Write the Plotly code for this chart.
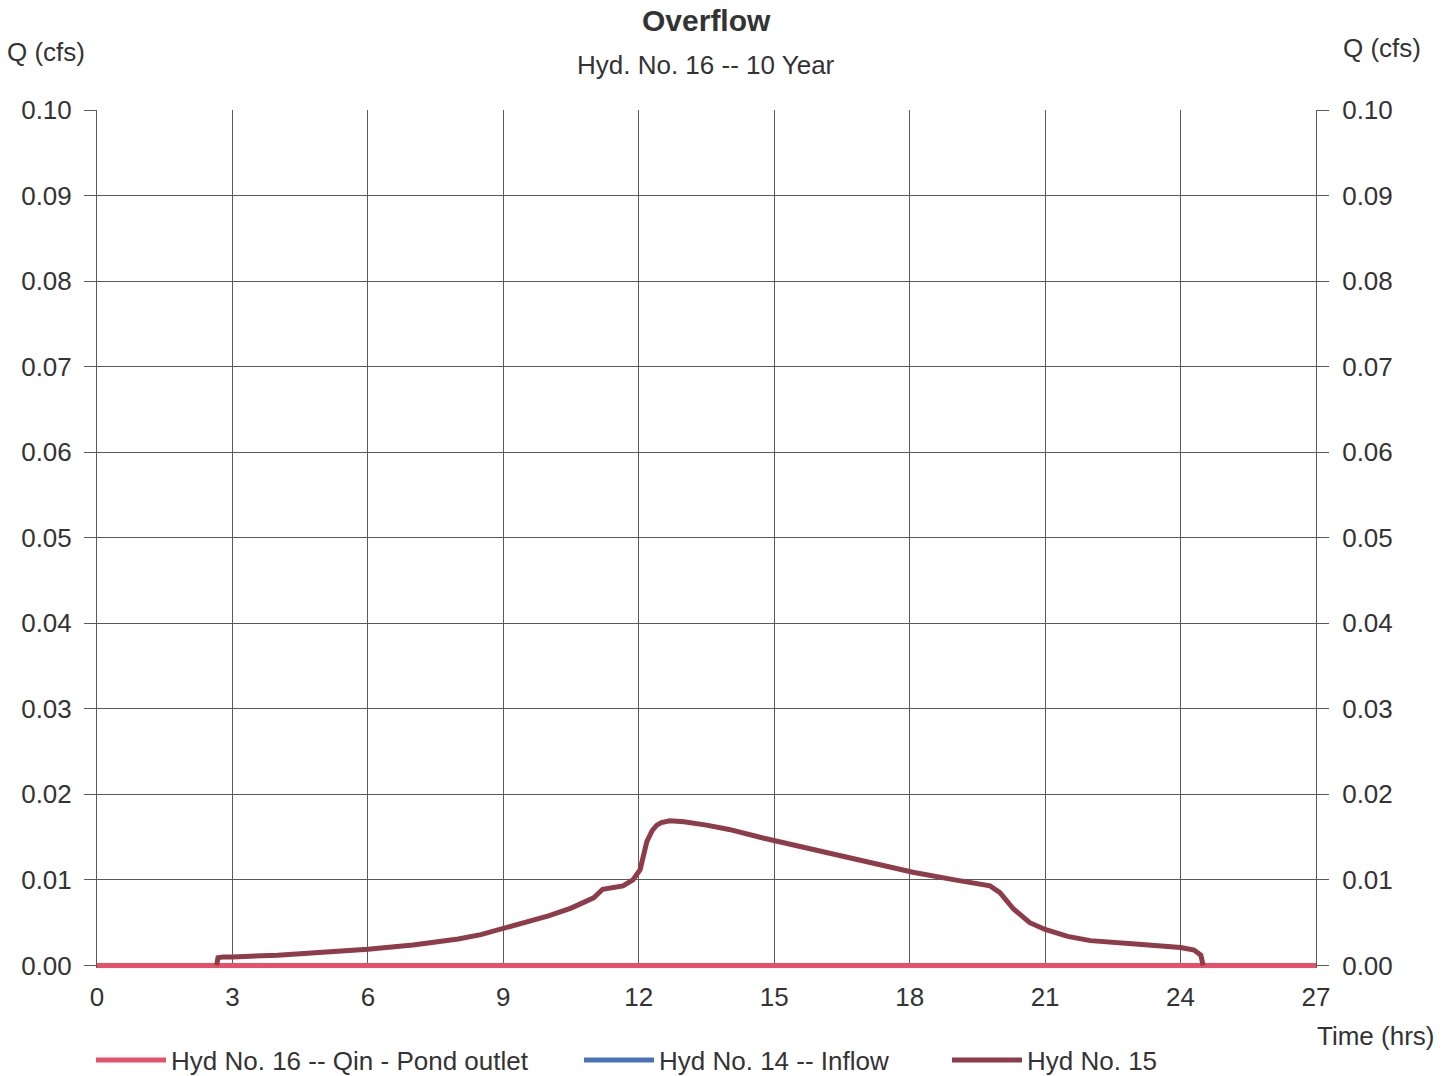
import plotly.graph_objects as go

# ---- data ----
hyd16_t = [0, 27]
hyd16_q = [0.0, 0.0]
hyd14_t = [0, 27]
hyd14_q = [0.0, 0.0]
hyd15_t = [2.65, 2.68, 2.8, 3.0, 4.0, 5.0, 6.0, 7.0, 8.0, 8.5, 9.0, 9.5, 10.0,
           10.5, 11.0, 11.2, 11.45, 11.65, 11.87, 12.03, 12.18, 12.3, 12.4, 12.5,
           12.69, 13.0, 13.5, 14.0, 14.75, 15.5, 16.5, 17.5, 18.07, 19.0, 19.5,
           19.78, 20.0, 20.3, 20.66, 21.0, 21.5, 22.0, 23.0, 24.0, 24.3, 24.45, 24.5]
hyd15_q = [0.0, 0.0009, 0.0010, 0.0010, 0.0012, 0.0015, 0.0019, 0.0024, 0.0031,
           0.0036, 0.0043, 0.0050, 0.0058, 0.0067, 0.0079, 0.0089, 0.0091, 0.0093,
           0.0100, 0.0112, 0.0145, 0.0158, 0.0164, 0.0167, 0.0169, 0.0168, 0.0164,
           0.0159, 0.0149, 0.0140, 0.0128, 0.0116, 0.0109, 0.0100, 0.0096, 0.0093,
           0.0085, 0.0066, 0.0050, 0.0042, 0.0034, 0.0029, 0.0025, 0.0021, 0.0018,
           0.0012, 0.0]
y_ticks = [0.00, 0.01, 0.02, 0.03, 0.04, 0.05, 0.06, 0.07, 0.08, 0.09, 0.10]
x_ticks = [0, 3, 6, 9, 12, 15, 18, 21, 24, 27]

FONT = "Liberation Sans, Arial, sans-serif"
TXT = "#333333"
GRID = "#5a5a5a"

L, R, T, B = 97, 1316, 110, 968
PW, PH = R - L, B - T


def px(x):
    return (x - L) / PW


def py(y):
    return (B - y) / PH


fig = go.Figure()
fig.add_trace(go.Scatter(x=hyd14_t, y=hyd14_q, mode="lines",
                         line=dict(color="#4a72b8", width=5),
                         name="Hyd No. 14 -- Inflow", legend="legend2"))
fig.add_trace(go.Scatter(x=hyd16_t, y=hyd16_q, mode="lines",
                         line=dict(color="#e8506a", width=5),
                         name="Hyd No. 16 -- Qin - Pond outlet", legend="legend"))
fig.add_trace(go.Scatter(x=hyd15_t, y=hyd15_q, mode="lines",
                         line=dict(color="#8e3c4a", width=5),
                         name="Hyd No. 15", legend="legend3"))
# invisible trace for the right axis
fig.add_trace(go.Scatter(x=[0], y=[0], yaxis="y2", mode="markers",
                         marker=dict(opacity=0), showlegend=False, hoverinfo="skip"))

axis_font = dict(family=FONT, size=26, color=TXT)
yr = [-0.0003, 0.10]
leg_font = dict(family=FONT, size=26, color=TXT)


def leg(xpix):
    return dict(orientation="h", x=px(xpix), xanchor="left", y=py(1060),
                yanchor="middle", font=leg_font, itemwidth=70,
                bgcolor="rgba(0,0,0,0)", borderwidth=0)


def note(text, xpix, ypix, size, bold=False):
    return dict(text=f"<b>{text}</b>" if bold else text, xref="paper", yref="paper",
                x=px(xpix), y=py(ypix), xanchor="center", yanchor="middle",
                showarrow=False, font=dict(family=FONT, size=size, color=TXT))


fig.update_layout(
    width=1450, height=1076,
    paper_bgcolor="white", plot_bgcolor="white",
    margin=dict(l=L, r=1450 - R, t=T, b=1076 - B, autoexpand=False),
    font=dict(family=FONT, color=TXT),
    xaxis=dict(range=[0, 27], tickvals=x_ticks, showgrid=True, gridcolor=GRID,
               gridwidth=1, showline=False, ticks="", tickfont=axis_font,
               ticklabelstandoff=11, zeroline=False),
    yaxis=dict(range=yr, tickvals=y_ticks, tickformat=".2f", showgrid=True,
               gridcolor=GRID, gridwidth=1, showline=True, linecolor=GRID,
               linewidth=1, ticks="outside", ticklen=12, tickcolor=GRID,
               tickfont=axis_font, ticklabelstandoff=7, zeroline=False),
    yaxis2=dict(range=yr, tickvals=y_ticks, tickformat=".2f", overlaying="y",
                side="right", showgrid=False, showline=True, linecolor=GRID,
                linewidth=1, ticks="outside", ticklen=12, tickcolor=GRID,
                tickfont=axis_font, ticklabelstandoff=8, zeroline=False),
    showlegend=True,
    legend=leg(91),
    legend2=leg(579),
    legend3=leg(947),
    annotations=[
        note("Overflow", 706, 20, 30, bold=True),
        note("Hyd. No. 16 -- 10 Year", 706, 65, 26),
        note("Q (cfs)", 46, 52, 26),
        note("Q (cfs)", 1382, 48, 26),
        note("Time (hrs)", 1375, 1036, 26),
    ],
)

fig.write_html("out.html", config={"displayModeBar": False},
               post_script="document.body.style.margin='0px';")
